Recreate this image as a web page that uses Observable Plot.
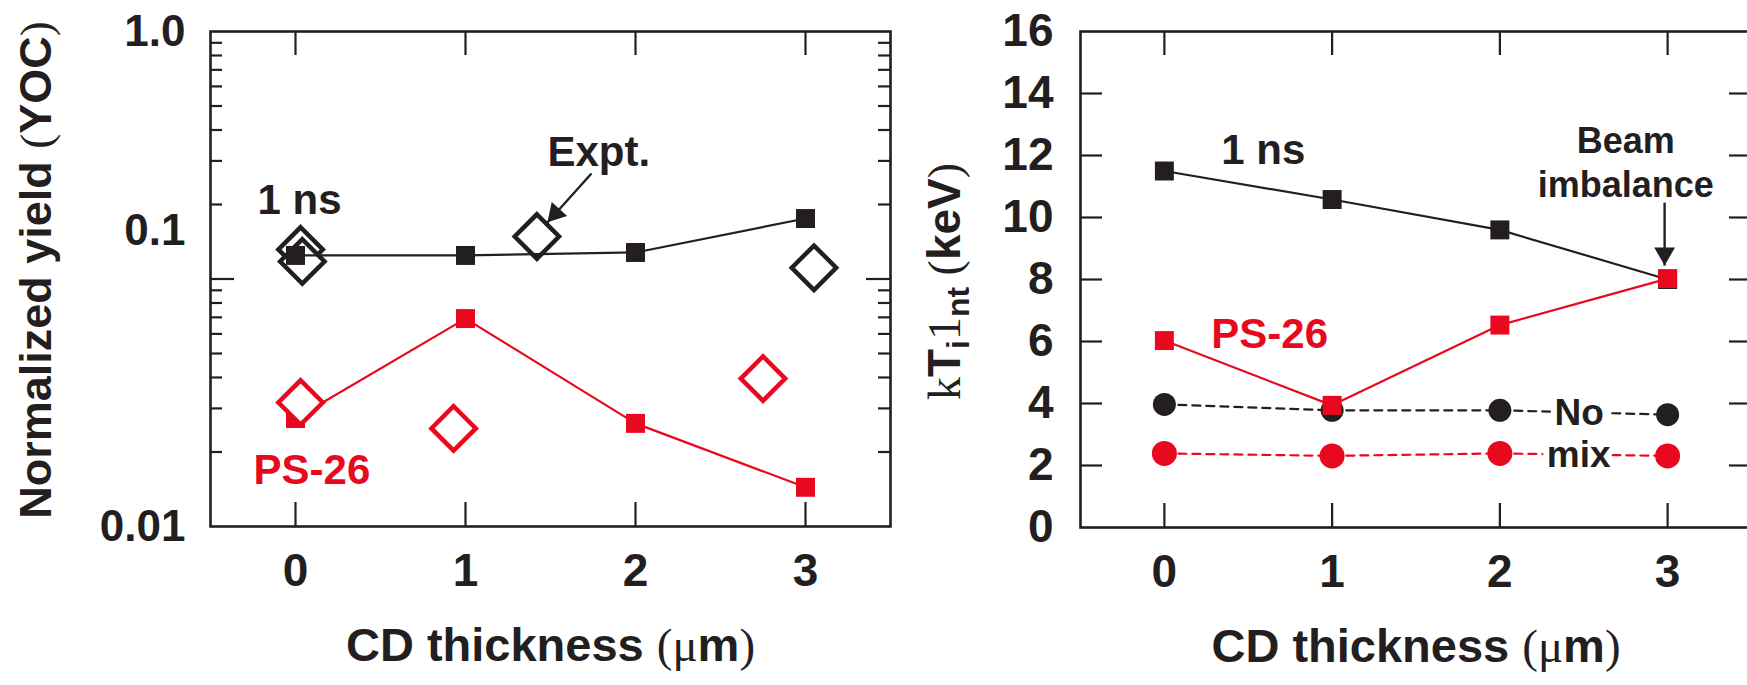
<!DOCTYPE html>
<html><head><meta charset="utf-8">
<script src="https://cdn.jsdelivr.net/npm/d3@7"></script>
<script src="https://cdn.jsdelivr.net/npm/@observablehq/plot@0.6"></script>
<style>
html,body{margin:0;padding:0;background:#fff;width:1747px;height:685px;overflow:hidden;}
#left{position:absolute;left:0;top:0;width:905px;height:685px;}
#right{position:absolute;left:905px;top:0;width:855px;height:685px;}
#left svg,#right svg{overflow:visible;max-width:none;}
</style></head><body>
<div id="left"></div><div id="right"></div>
<script>
// ---------- data ----------
const thickness = [0, 1, 2, 3];
// Left panel: normalized yield (YOC), log scale
const yoc1ns   = [0.1245, 0.1245, 0.128, 0.1755];
const yocPS26  = [0.0273, 0.0692, 0.0261, 0.0144];
const expt1nsX = [0.03, 0.04, 1.42, 3.05];
const expt1nsY = [0.1316, 0.1177, 0.1485, 0.111];
const exptPS26X = [0.03, 0.93, 2.75];
const exptPS26Y = [0.0317, 0.0249, 0.0396];
// Right panel: <kTi>nt (keV)
const kt1ns       = [11.5, 10.58, 9.6, 8.0];
const ktPS26      = [6.03, 3.94, 6.53, 8.03];
const ktNoMix1ns  = [3.97, 3.78, 3.78, 3.64];
const ktNoMixPS26 = [2.39, 2.31, 2.39, 2.31];

// ticks
const xTicks = [0, 1, 2, 3];
const xTickLabels = ["0", "1", "2", "3"];
const yocTickValues = [1, 0.1, 0.01];
const yocTickLabels = ["1.0", "0.1", "0.01"];
const yocMinorTicks = [0.02, 0.03, 0.04, 0.05, 0.06, 0.07, 0.08, 0.09, 0.2, 0.3, 0.4, 0.5, 0.6, 0.7, 0.8, 0.9];
const ktTickValues = [0, 2, 4, 6, 8, 10, 12, 14, 16];
const ktTickLabels = ["0", "2", "4", "6", "8", "10", "12", "14", "16"];

// titles and annotations
const xTitle = "CD thickness (μm)";
const yocTitle = "Normalized yield (YOC)";
const ktTitle = "kTi1nt (keV)";
const yocNotes = [
  {text: "1 ns", x: -0.2235, y: 0.2082, series: "1ns"},
  {text: "PS-26", x: -0.247, y: 0.0169, series: "ps"},
  {text: "Expt.", x: 1.482, y: 0.3257, series: "1ns"}
];
const yocArrow = [{x1: 1.741, y1: 0.2668, x2: 1.482, y2: 0.1692, rot: 222, hx: 8, hy: -9}];
const ktNotesStart = [
  {text: "1 ns", x: 0.339, y: 12.17, series: "1ns"},
  {text: "PS-26", x: 0.28, y: 6.21, series: "ps"}
];
const ktNotesBeam = [
  {text: "Beam", x: 2.75, y: 12.44},
  {text: "imbalance", x: 2.75, y: 11.02}
];
const ktNotesMix = [
  {text: "No", x: 2.473, y: 3.68},
  {text: "mix", x: 2.47, y: 2.32}
];
const ktArrow = [{x1: 2.982, y1: 10.48, x2: 2.982, y2: 8.45, rot: 180, hx: 0, hy: -12}];

// ---------- style ----------
const ink = "#231f20";
const red = "#e8091e";
const sans = "'Liberation Sans', Arial, Helvetica, sans-serif";
const serif = "'Liberation Serif', 'Times New Roman', serif";
const colorOf = s => s === "ps" ? red : ink;

function rows(ys) { return thickness.map((t, i) => ({t, v: ys[i]})); }
function pts(xs, ys) { return xs.map((x, i) => ({t: x, v: ys[i]})); }

function arrowMarks(data) {
  return [
    Plot.link(data, {x1: "x1", y1: "y1", x2: "x2", y2: "y2", stroke: ink, strokeWidth: 2.4}),
    ...data.map(a => Plot.dot([a], {x: "x2", y: "y2", dx: a.hx, dy: a.hy, symbol: "triangle", r: 7.7, rotate: a.rot, fill: ink}))
  ];
}

function richText(svg, plain, parts) {
  d3.select(svg).selectAll("text").filter(function() { return this.textContent === plain; }).each(function() {
    const t = d3.select(this);
    t.text(null);
    for (const p of parts) {
      const s = t.append("tspan").text(p.t);
      if (p.serif) s.attr("font-family", serif).attr("font-weight", "normal");
      if (p.size) s.attr("font-size", p.size);
      if (p.dy) s.attr("dy", p.dy);
    }
  });
}
const xTitleParts = [{t: "CD thickness "}, {t: "(", serif: true}, {t: "μ", serif: true}, {t: "m"}, {t: ")", serif: true}];

// ---------- left panel ----------
{
  const W = 905, H = 685, mL = 210, mR = 15, mT = 31, mB = 159;
  const fw = W - mL - mR, fh = H - mT - mB;
  const svg = Plot.plot({
    width: W, height: H, marginLeft: mL, marginRight: mR, marginTop: mT, marginBottom: mB,
    x: {domain: [-0.5, 3.5]},
    y: {type: "log", domain: [0.01, 1]},
    style: {background: "transparent", color: ink, fontFamily: sans, fontWeight: "bold", overflow: "visible"},
    marks: [
      Plot.frame({stroke: ink, strokeWidth: 2.6}),
      // inward ticks
      Plot.ruleX(xTicks, {insetTop: fh - 24, stroke: ink, strokeWidth: 2.2}),
      Plot.ruleX(xTicks, {insetBottom: fh - 24, stroke: ink, strokeWidth: 2.2}),
      Plot.ruleY(yocMinorTicks, {insetRight: fw - 12, stroke: ink, strokeWidth: 2.2}),
      Plot.ruleY(yocMinorTicks, {insetLeft: fw - 12, stroke: ink, strokeWidth: 2.2}),
      Plot.ruleY([0.1], {insetRight: fw - 24, stroke: ink, strokeWidth: 2.2}),
      Plot.ruleY([0.1], {insetLeft: fw - 24, stroke: ink, strokeWidth: 2.2}),
      // tick labels
      Plot.axisX(xTicks, {tickSize: 0, tickPadding: 27, fontSize: 46, fontWeight: "bold", label: null,
        tickFormat: v => xTickLabels[xTicks.indexOf(v)]}),
      Plot.axisY([1, 0.01], {tickSize: 0, tickPadding: 25, fontSize: 44, fontWeight: "bold", label: null,
        tickFormat: v => yocTickLabels[yocTickValues.indexOf(v)]}),
      Plot.axisY([0.1], {tickSize: 0, tickPadding: 25, fontSize: 44, fontWeight: "bold", label: null, dy: -48,
        tickFormat: v => yocTickLabels[yocTickValues.indexOf(v)]}),
      // axis titles
      Plot.text([xTitle], {frameAnchor: "bottom", dy: 134, fontSize: 47, fontWeight: "bold", fill: ink}),
      Plot.text([yocTitle], {frameAnchor: "left", textAnchor: "middle", rotate: -90, dx: -174, dy: -9, fontSize: 45, fontWeight: "bold", fill: ink}),
      // PS-26 series
      Plot.line(rows(yocPS26), {x: "t", y: "v", stroke: red, strokeWidth: 2.2}),
      Plot.dot(rows(yocPS26), {x: "t", y: "v", symbol: "square", r: 10.7, fill: red}),
      Plot.dot(pts(exptPS26X, exptPS26Y), {x: "t", y: "v", symbol: "diamond2", r: 20, stroke: red, strokeWidth: 4.5, fill: "white"}),
      // 1 ns series
      Plot.dot(pts(expt1nsX, expt1nsY), {x: "t", y: "v", symbol: "diamond2", r: 20, stroke: ink, strokeWidth: 4.5, fill: "white"}),
      Plot.line(rows(yoc1ns), {x: "t", y: "v", stroke: ink, strokeWidth: 2.2}),
      Plot.dot(rows(yoc1ns), {x: "t", y: "v", symbol: "square", r: 10.7, fill: ink}),
      // annotations
      Plot.text(yocNotes, {x: "x", y: "y", text: "text", textAnchor: "start", fontSize: 42, fontWeight: "bold", fill: d => colorOf(d.series)}),
      ...arrowMarks(yocArrow)
    ]
  });
  document.getElementById("left").appendChild(svg);
  richText(svg, xTitle, xTitleParts);
  richText(svg, yocTitle, [{t: "Normalized yield "}, {t: "(", serif: true}, {t: "YOC"}, {t: ")", serif: true}]);
}

// ---------- right panel ----------
{
  const W = 855, H = 685, mL = 175, mR = 9, mT = 31, mB = 158;
  const fw = W - mL - mR, fh = H - mT - mB;
  const inner = ktTickValues.filter(v => v > 0 && v < 16);
  const svg = Plot.plot({
    width: W, height: H, marginLeft: mL, marginRight: mR, marginTop: mT, marginBottom: mB,
    x: {domain: [-0.5, 3.5]},
    y: {domain: [0, 16]},
    style: {background: "transparent", color: ink, fontFamily: sans, fontWeight: "bold", overflow: "visible"},
    marks: [
      Plot.frame({stroke: ink, strokeWidth: 2.6}),
      Plot.ruleX(xTicks, {insetTop: fh - 24, stroke: ink, strokeWidth: 2.2}),
      Plot.ruleX(xTicks, {insetBottom: fh - 24, stroke: ink, strokeWidth: 2.2}),
      Plot.ruleY(inner, {insetRight: fw - 22, stroke: ink, strokeWidth: 2.2}),
      Plot.ruleY(inner, {insetLeft: fw - 22, stroke: ink, strokeWidth: 2.2}),
      Plot.axisX(xTicks, {tickSize: 0, tickPadding: 27, fontSize: 46, fontWeight: "bold", label: null,
        tickFormat: v => xTickLabels[xTicks.indexOf(v)]}),
      Plot.axisY(ktTickValues, {tickSize: 0, tickPadding: 27, fontSize: 46, fontWeight: "bold", label: null,
        tickFormat: v => ktTickLabels[ktTickValues.indexOf(v)]}),
      Plot.text([xTitle], {frameAnchor: "bottom", dy: 134, fontSize: 47, fontWeight: "bold", fill: ink}),
      Plot.text([ktTitle], {frameAnchor: "left", textAnchor: "middle", rotate: -90, dx: -135, dy: 2, fontSize: 46, fontWeight: "bold", fill: ink}),
      // no-mix series
      Plot.line(rows(ktNoMix1ns), {x: "t", y: "v", stroke: ink, strokeWidth: 2.2, strokeDasharray: "8,6"}),
      Plot.dot(rows(ktNoMix1ns), {x: "t", y: "v", r: 11.5, fill: ink}),
      Plot.line(rows(ktNoMixPS26), {x: "t", y: "v", stroke: red, strokeWidth: 2.2, strokeDasharray: "8,6"}),
      Plot.dot(rows(ktNoMixPS26), {x: "t", y: "v", r: 12.5, fill: red}),
      Plot.text(ktNotesMix, {x: "x", y: "y", text: "text", fontSize: 37, fontWeight: "bold", fill: ink, stroke: "white", strokeWidth: 12, paintOrder: "stroke"}),
      // simulations
      Plot.line(rows(kt1ns), {x: "t", y: "v", stroke: ink, strokeWidth: 2.2}),
      Plot.dot(rows(kt1ns), {x: "t", y: "v", symbol: "square", r: 10.7, fill: ink}),
      Plot.line(rows(ktPS26), {x: "t", y: "v", stroke: red, strokeWidth: 2.2}),
      Plot.dot(rows(ktPS26), {x: "t", y: "v", symbol: "square", r: 10.7, fill: red}),
      // annotations
      Plot.text(ktNotesStart, {x: "x", y: "y", text: "text", textAnchor: "start", fontSize: 42, fontWeight: "bold", fill: d => colorOf(d.series)}),
      Plot.text(ktNotesBeam, {x: "x", y: "y", text: "text", fontSize: 36, fontWeight: "bold", fill: ink}),
      ...arrowMarks(ktArrow)
    ]
  });
  document.getElementById("right").appendChild(svg);
  richText(svg, xTitle, xTitleParts);
  richText(svg, ktTitle, [
    {t: "k", serif: true}, {t: "T"}, {t: "i", size: 32, dy: 9}, {t: "1", serif: true, dy: -9},
    {t: "nt", size: 32, dy: 9}, {t: " (", serif: true, dy: -9}, {t: "keV"}, {t: ")", serif: true}
  ]);
}
</script>
</body></html>
